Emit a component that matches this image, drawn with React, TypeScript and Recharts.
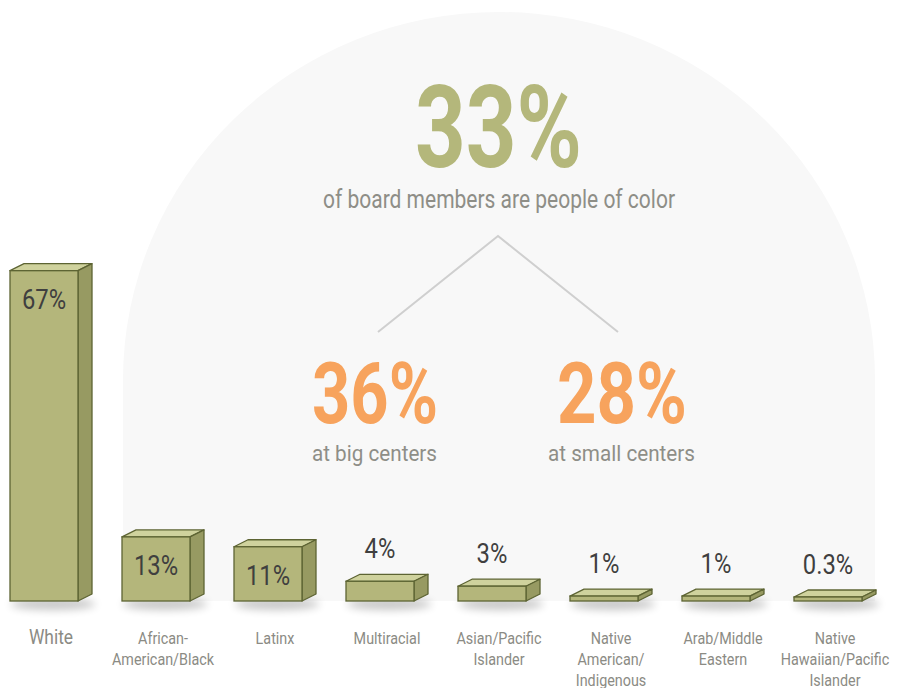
import React from 'react';
import { BarChart, Bar, XAxis, YAxis, LabelList, Customized } from 'recharts';

// ---- data ----
const categories = [
  'White',
  'African-American/Black',
  'Latinx',
  'Multiracial',
  'Asian/Pacific Islander',
  'Native American/Indigenous',
  'Arab/Middle Eastern',
  'Native Hawaiian/Pacific Islander',
];
const tickLines = [
  ['White'],
  ['African-', 'American/Black'],
  ['Latinx'],
  ['Multiracial'],
  ['Asian/Pacific', 'Islander'],
  ['Native', 'American/', 'Indigenous'],
  ['Arab/Middle', 'Eastern'],
  ['Native', 'Hawaiian/Pacific', 'Islander'],
];
const shares = [67, 13, 11, 4, 3, 1, 1, 0.3];
const shareLabels = ['67%', '13%', '11%', '4%', '3%', '1%', '1%', '0.3%'];
const headlineValues = ['33%', '36%', '28%'];
const headlineCaptions = ['of board members are people of color', 'at big centers', 'at small centers'];

const data = categories.map((c, i) => ({ category: c, share: shares[i], label: shareLabels[i] }));

// ---- styles ----
const FRONT = '#b4b67b';
const TOP = '#cfd29d';
const SIDE = '#979a62';
const STROKE = '#5d6433';
const DX = 14;
const DY = 7;
const MIN_H = 4;
const FONT = 'Roboto, "Open Sans", sans-serif';

const Bar3D = (props: any) => {
  const { x, y, width, height } = props;
  if (x == null || width == null) return null;
  const bottom = y + height;
  const h = Math.max(height, MIN_H);
  const top = bottom - h;
  const fw = width - DX;
  return (
    <g>
      <ellipse cx={x + width / 2 + 2} cy={bottom + 3} rx={width * 0.52} ry={6} fill="#000" opacity={0.22} filter="url(#barShadow)" />
      <path d={`M${x},${top} L${x + DX},${top - DY} L${x + width},${top - DY} L${x + fw},${top} Z`} fill={TOP} stroke={STROKE} strokeWidth={1.3} strokeLinejoin="round" />
      <path d={`M${x + fw},${top} L${x + width},${top - DY} L${x + width},${bottom - DY} L${x + fw},${bottom} Z`} fill={SIDE} stroke={STROKE} strokeWidth={1.3} strokeLinejoin="round" />
      <rect x={x} y={top} width={fw} height={h} fill={FRONT} stroke={STROKE} strokeWidth={1.3} />
    </g>
  );
};

const ValueLabel = (props: any) => {
  const { x, y, width, height, value, index } = props;
  if (x == null) return null;
  const bottom = y + height;
  const h = Math.max(height, MIN_H);
  const top = bottom - h;
  const inside = shares[index] >= 10;
  const cx = x + (width - DX) / 2;
  const by = inside ? top + 38 : top - 23;
  return (
    <text transform={`translate(${cx},${by}) scale(0.85,1)`} textAnchor="middle" fontSize={28} fill="#3f3f3f" fontFamily={FONT}>
      {value}
    </text>
  );
};

const Tick = (props: any) => {
  const { x, y, payload } = props;
  const idx = categories.indexOf(payload.value);
  const lines = tickLines[idx] || [payload.value];
  const big = idx === 0;
  return (
    <g transform={`translate(${x},${y}) scale(0.87,1)`}>
      <text x={0} y={0} textAnchor="middle" fontSize={big ? 20 : 16.5} fill="#8b8b84" fontFamily={FONT}>
        {lines.map((l, i) => (
          <tspan key={i} x={0} y={43 + i * 21}>{l}</tspan>
        ))}
      </text>
    </g>
  );
};

const Backdrop = () => (
  <g>
    <defs>
      <filter id="barShadow" x="-50%" y="-300%" width="200%" height="700%">
        <feGaussianBlur stdDeviation="4" />
      </filter>
    </defs>
    <path d="M128,601 L128,380 A376,368 0 0 1 880,380 L880,601 Z" fill="#f8f8f8" />
    <text x={503.5} y={167} textAnchor="middle" fontSize={115} fontWeight={700} fill="#b4b77b" fontFamily={FONT} textLength={167} lengthAdjust="spacingAndGlyphs">{headlineValues[0]}</text>
    <text x={504} y={208} textAnchor="middle" fontSize={25} fill="#8e8e87" fontFamily={FONT} textLength={352} lengthAdjust="spacingAndGlyphs">{headlineCaptions[0]}</text>
    <polyline points="383,332 503,236 623,332" fill="none" stroke="#cfcfcf" strokeWidth={2} />
    <text x={380} y={423} textAnchor="middle" fontSize={86} fontWeight={700} fill="#f7a35d" fontFamily={FONT} textLength={126} lengthAdjust="spacingAndGlyphs">{headlineValues[1]}</text>
    <text x={379.5} y={461} textAnchor="middle" fontSize={22} fill="#8e8e87" fontFamily={FONT} textLength={125} lengthAdjust="spacingAndGlyphs">{headlineCaptions[1]}</text>
    <text x={627} y={423} textAnchor="middle" fontSize={86} fontWeight={700} fill="#f7a35d" fontFamily={FONT} textLength={130} lengthAdjust="spacingAndGlyphs">{headlineValues[2]}</text>
    <text x={626.5} y={461} textAnchor="middle" fontSize={22} fill="#8e8e87" fontFamily={FONT} textLength={147} lengthAdjust="spacingAndGlyphs">{headlineCaptions[2]}</text>
  </g>
);

export default function App() {
  return (
    <div style={{ position: 'absolute', left: -5, top: 0, width: 903, height: 688, background: '#fff' }}>
      <BarChart width={903} height={688} data={data} margin={{ top: 108, right: 7, bottom: 7, left: 0 }} barSize={82}>
        <Customized component={<Backdrop />} />
        <YAxis hide domain={[0, 100]} />
        <XAxis dataKey="category" axisLine={false} tickLine={false} tickSize={0} tickMargin={0} height={80} interval={0} tick={<Tick />} />
        <Bar dataKey="share" shape={<Bar3D />} isAnimationActive={false}>
          <LabelList dataKey="label" content={<ValueLabel />} />
        </Bar>
      </BarChart>
    </div>
  );
}
